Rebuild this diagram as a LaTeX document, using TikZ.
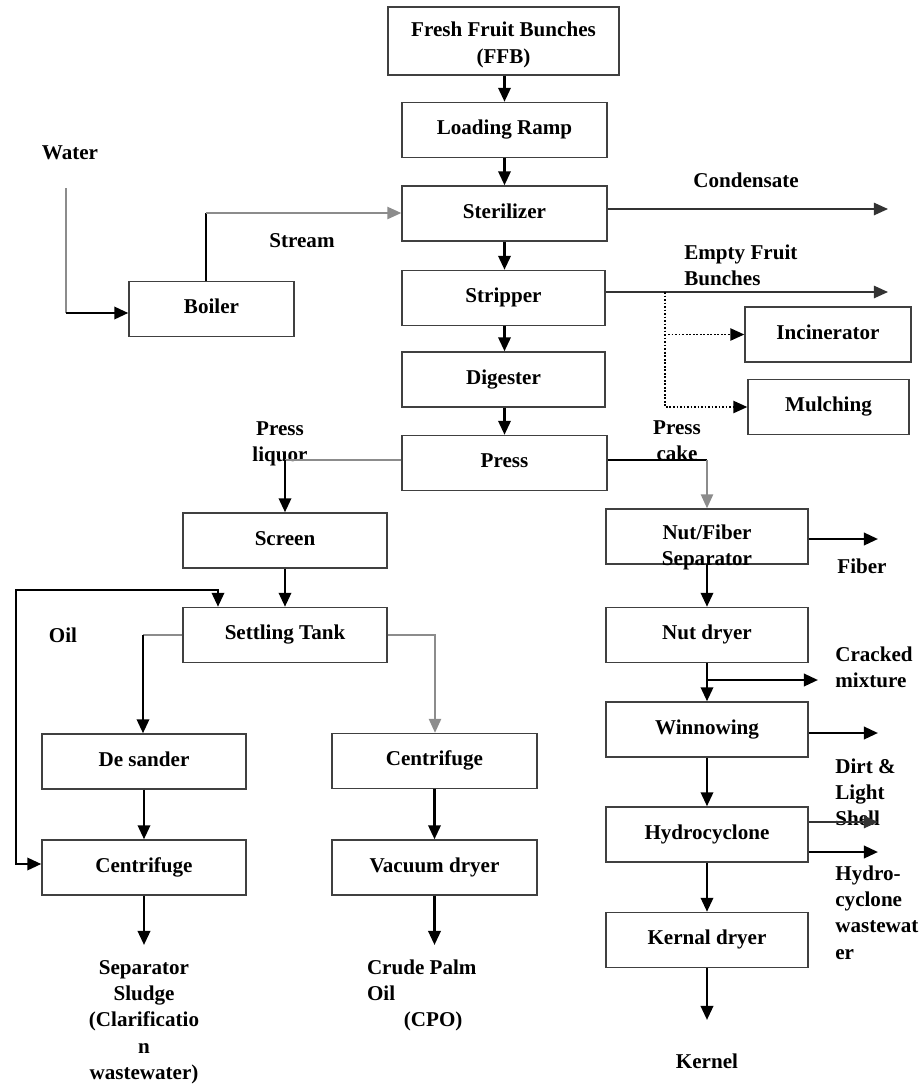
\documentclass[tikz,border=0pt]{standalone}
\usepackage{fontspec}
\setmainfont{Liberation Serif}
\usetikzlibrary{arrows.meta}
\newcommand{\cstack}[1]{\begin{tabular}[t]{@{}c@{}}#1\end{tabular}}
\newcommand{\lstack}[1]{\begin{tabular}[t]{@{}l@{}}#1\end{tabular}}

\begin{document}
\begin{tikzpicture}[x=0.02cm,y=-0.02cm,>={Triangle[length=8pt,width=7pt]},
  every node/.style={font=\fontsize{12}{15}\selectfont\bfseries},
  unit/.style={draw=black!75,line width=0.8pt,minimum width=4.08cm,minimum height=1.1cm,
    inner sep=0pt,text height=10pt,text depth=4.6pt},
  lbl/.style={inner sep=0pt},
  flow/.style={black,line width=1.5pt},
  feed/.style={black!45,line width=1pt},
  side/.style={black!80,line width=1pt},
  dots/.style={black,line width=1pt,densely dotted}]
        \useasboundingbox (0,0) rectangle (922,1086);
        \node[unit,minimum width=4.62cm,minimum height=1.36cm,text depth=14.6pt] (ffb) at (503.5,41) {\cstack{Fresh Fruit Bunches\\(FFB)}};
        \node[unit,minimum width=4.1cm] (ramp) at (504.5,130) {Loading Ramp};
        \node[unit,minimum width=4.1cm] (steril) at (504.5,213.5) {Sterilizer};
        \node[unit,minimum width=4.06cm] (strip) at (503.5,298) {Stripper};
        \node[unit,minimum width=4.06cm] (dig) at (503.5,379.5) {Digester};
        \node[unit,minimum width=4.1cm] (press) at (504.5,463) {Press};
        \node[unit,minimum width=3.3cm] (boiler) at (211.5,309) {Boiler};
        \node[unit,minimum width=3.32cm] (incin) at (828,334.5) {Incinerator};
        \node[unit,minimum width=3.22cm] (mulch) at (828.5,407) {Mulching};
        \node[unit] (screen) at (285,540.5) {Screen};
        \node[unit] (settle) at (285,635) {Settling Tank};
        \node[unit] (desand) at (144,761.5) {De sander};
        \node[unit] (centl) at (144,867.5) {Centrifuge};
        \node[unit,minimum width=4.1cm] (centr) at (434.5,761) {Centrifuge};
        \node[unit,minimum width=4.1cm] (vac) at (434.5,867.5) {Vacuum dryer};
        \node[unit,minimum width=4.04cm,text depth=6.6pt] (nfsep) at (707,536.5) {\cstack{Nut/Fiber\\Separator}};
        \node[unit,minimum width=4.04cm] (nutdry) at (707,635) {Nut dryer};
        \node[unit,minimum width=4.04cm] (winn) at (707,729.5) {Winnowing};
        \node[unit,minimum width=4.04cm] (hydro) at (707,834.5) {Hydrocyclone};
        \node[unit,minimum width=4.04cm] (kdry) at (707,940) {Kernal dryer};

        \node[lbl,anchor=base] (water) at (70,159) {Water};
        \node[lbl,anchor=base] (stream) at (302,247) {Stream};
        \node[lbl,anchor=base] (condensate) at (746,187) {Condensate};
        \node[lbl,anchor=base west] (efb) at (684,259) {\lstack{Empty Fruit\\Bunches}};
        \node[lbl,anchor=base] (presscake) at (677,434) {\cstack{Press\\cake}};
        \node[lbl,anchor=base] (pressliquor) at (280,435) {\cstack{Press\\liquor}};
        \node[lbl,anchor=base] (oil) at (63,642) {Oil};
        \node[lbl,anchor=base] (fiber) at (862,573) {Fiber};
        \node[lbl,anchor=base west] (cracked) at (835,661) {\lstack{Cracked\\mixture}};
        \node[lbl,anchor=base west] (dirt) at (835,773) {\lstack{Dirt \&\\Light\\Shell}};
        \node[lbl,anchor=base west] (hywaste) at (835,880) {\lstack{Hydro-\\cyclone\\wastewat\\er}};
        \node[lbl,anchor=north,outer ysep=6pt] (sludge) at (144,945) {\cstack{Separator\\Sludge\\(Clarificatio\\n\\wastewater)}};
        \node[lbl,anchor=north west,outer xsep=0pt,outer ysep=6pt] (cpo) at (367,945) {\lstack{Crude Palm\\Oil\\\hspace*{21pt}(CPO)}};
        \node[lbl,anchor=north,outer ysep=19.5pt] (kernel) at (707,1020) {Kernel};

        \foreach \a/\b in {ffb/ramp,ramp/steril,steril/strip,strip/dig,dig/press}
          \draw[flow,->] (\a.south -| ramp.south) -- (\b.north -| ramp.south);

        \coordinate (wtop) at (66,188);
        \coordinate (wbend) at (66,313);
        \draw[feed] (wtop) -- (wbend);
        \draw[flow,->] (wbend) -- (wbend -| boiler.west);
        \coordinate (sbend) at (206,213);
        \draw[flow] (sbend |- boiler.north) -- (sbend);
        \draw[feed,->] (sbend) -- (sbend -| steril.west);

        \coordinate (condend) at (888,209);
        \draw[side,->] (steril.east |- condend) -- (condend);
        \coordinate (efbend) at (888,292);
        \coordinate (efbsplit) at (665,292);
        \draw[side,->] (strip.east |- efbend) -- (efbend);
        \draw[dots,->] (efbsplit) |- (incin.west);
        \draw[dots,->] (efbsplit) |- (mulch.west);

        \coordinate (plbend) at (285,460);
        \draw[feed] (press.west |- plbend) -- (plbend);
        \draw[flow,->] (plbend) -- (screen.north);
        \coordinate (pcbend) at (707,460);
        \draw[flow] (press.east |- pcbend) -- (pcbend);
        \draw[feed,->] (pcbend) -- (nfsep.north);

        \draw[flow,->] (screen.south) -- (settle.north);
        \coordinate (oiltop) at (218,590);
        \coordinate (oilleft) at (16,864);
        \draw[flow,<->] (settle.north -| oiltop) -- (oiltop) -| (oilleft) -- (oilleft -| centl.west);
        \coordinate (stw) at (143,635);
        \draw[feed] (settle.west) -- (stw);
        \draw[flow,->] (stw) -- (stw |- desand.north);
        \coordinate (ste) at (435,635);
        \draw[feed,->] (settle.east) -- (ste) -- (ste |- centr.north);

        \draw[flow,->] (desand.south) -- (centl.north);
        \draw[flow,->] (centl.south) -- (sludge.north);
        \draw[flow,->] (centr.south) -- (vac.north);
        \draw[flow,->] (vac.south) -- (vac.south |- cpo.north);

        \coordinate (fibend) at (878,539);
        \draw[flow,->] (nfsep.east |- fibend) -- (fibend);
        \draw[flow,->] (nfsep.south) -- (nutdry.north);
        \draw[flow,->] (nutdry.south) -- (winn.north);
        \coordinate (cmsplit) at (707,680);
        \coordinate (cmend) at (818,680);
        \draw[flow,->] (cmsplit) -- (cmend);
        \coordinate (dirtend) at (878,733);
        \draw[flow,->] (winn.east |- dirtend) -- (dirtend);
        \draw[flow,->] (winn.south) -- (hydro.north);
        \coordinate (hyend1) at (878,822);
        \coordinate (hyend2) at (878,852);
        \draw[side,->] (hydro.east |- hyend1) -- (hyend1);
        \draw[flow,->] (hydro.east |- hyend2) -- (hyend2);
        \draw[flow,->] (hydro.south) -- (kdry.north);
        \draw[flow,->] (kdry.south) -- (kernel.north);
      \end{tikzpicture}
\end{document}
